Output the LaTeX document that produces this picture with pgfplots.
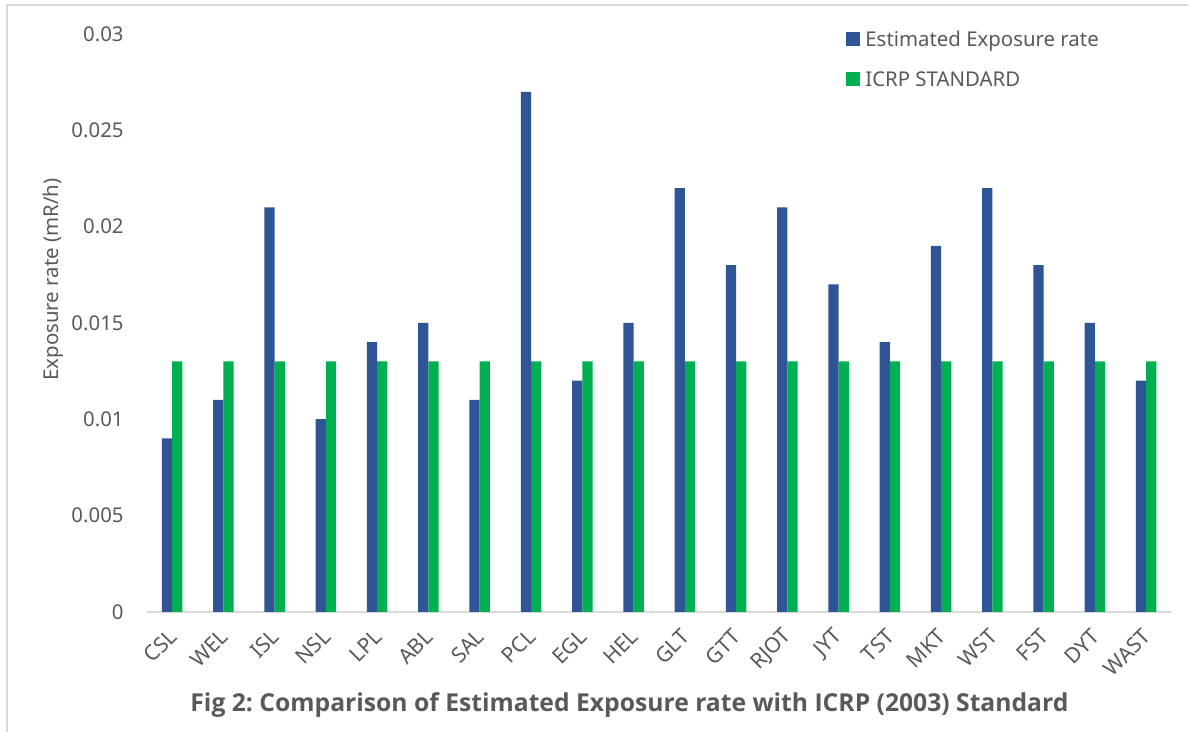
\documentclass[border=0pt]{standalone}
\usepackage{pgfplots}
\pgfplotsset{compat=1.18}
\usepackage{fontspec}
\setmainfont{Noto Sans}
\newfontfamily\capfont{Open Sans}
\frenchspacing
\definecolor{estblue}{HTML}{2F5597}
\definecolor{icrpgreen}{HTML}{00B050}
\definecolor{txtgray}{HTML}{595959}
\definecolor{axgray}{HTML}{D9D9D9}

\begin{document}
\begin{tikzpicture}
\begin{axis}[
  scale only axis,
  width=513pt, height=289.15pt,
  xmin=-0.5, xmax=19.5,
  ymin=0, ymax=0.03,
  axis x line*=bottom,
  axis y line*=left,
  x axis line style={draw=axgray, line width=0.75pt},
  y axis line style={draw=none},
  major tick style={draw=none},
  xtick={0,...,19},
  xticklabels={CSL,WEL,ISL,NSL,LPL,ABL,SAL,PCL,EGL,HEL,GLT,GTT,RJOT,JYT,TST,MKT,WST,FST,DYT,WAST},
  ytick={0,0.005,0.01,0.015,0.02,0.025,0.03},
  yticklabels={0,0.005,0.01,0.015,0.02,0.025,0.03},
  scaled y ticks=false,
  tick label style={font=\fontsize{10.2}{12}\selectfont, text=txtgray},
  yticklabel style={inner sep=0pt, anchor=east, xshift=-11.3pt},
  xticklabel style={font=\fontsize{10.6}{12}\selectfont, inner sep=0pt, xshift=0.5pt, yshift=-10.5pt, rotate=45, anchor=east},
  ylabel={Exposure rate (mR/h)},
  ylabel style={at={(axis description cs:-0.0913,0.575)}, anchor=center, rotate=0,
    font=\fontsize{10.2}{12}\selectfont, text=txtgray},
  bar width=0.2,
  legend style={draw=none, fill=none, inner sep=0pt,
    at={(axis description cs:0.6823,1.0074)}, anchor=north west,
    font=\fontsize{10.2}{12}\selectfont, text=txtgray,
    row sep=11pt, column sep=2.5pt,
    nodes={inner sep=0pt, text height=8pt, text depth=1pt}},
  legend cell align=left,
  legend image code/.code={\fill[#1] (0pt,-3.5pt) rectangle (7pt,3.5pt);},
  clip=false,
]
\addplot[ybar, bar shift=-0.1, fill=estblue, draw=none] coordinates {
  (0,0.009) (1,0.011) (2,0.021) (3,0.010) (4,0.014)
  (5,0.015) (6,0.011) (7,0.027) (8,0.012) (9,0.015)
  (10,0.022) (11,0.018) (12,0.021) (13,0.017) (14,0.014)
  (15,0.019) (16,0.022) (17,0.018) (18,0.015) (19,0.012)};
\addlegendentry{Estimated Exposure rate}
\addplot[ybar, bar shift=0.1, fill=icrpgreen, draw=none] coordinates {
  (0,0.013) (1,0.013) (2,0.013) (3,0.013) (4,0.013)
  (5,0.013) (6,0.013) (7,0.013) (8,0.013) (9,0.013)
  (10,0.013) (11,0.013) (12,0.013) (13,0.013) (14,0.013)
  (15,0.013) (16,0.013) (17,0.013) (18,0.013) (19,0.013)};
\addlegendentry{ICRP STANDARD}
\end{axis}
% caption below the chart
\node[font=\capfont\bfseries\fontsize{12.35}{14}\selectfont, text=txtgray, anchor=center]
  at ([shift={(241.65pt,-46.8pt)}]current axis.south west)
  {Fig 2: Comparison of Estimated Exposure rate with ICRP (2003) Standard};
% thin frame along the top and left edges
\draw[axgray, line width=1pt]
  ([shift={(-70pt,-60.35pt)}]current axis.south west)
  -- ([shift={(-70pt,303.5pt)}]current axis.south west)
  -- ([shift={(521.15pt,303.5pt)}]current axis.south west);
% page extent
\path ([shift={(-73.35pt,-60.35pt)}]current axis.south west)
  rectangle ([shift={(521.15pt,306.15pt)}]current axis.south west);
\end{tikzpicture}
\end{document}
